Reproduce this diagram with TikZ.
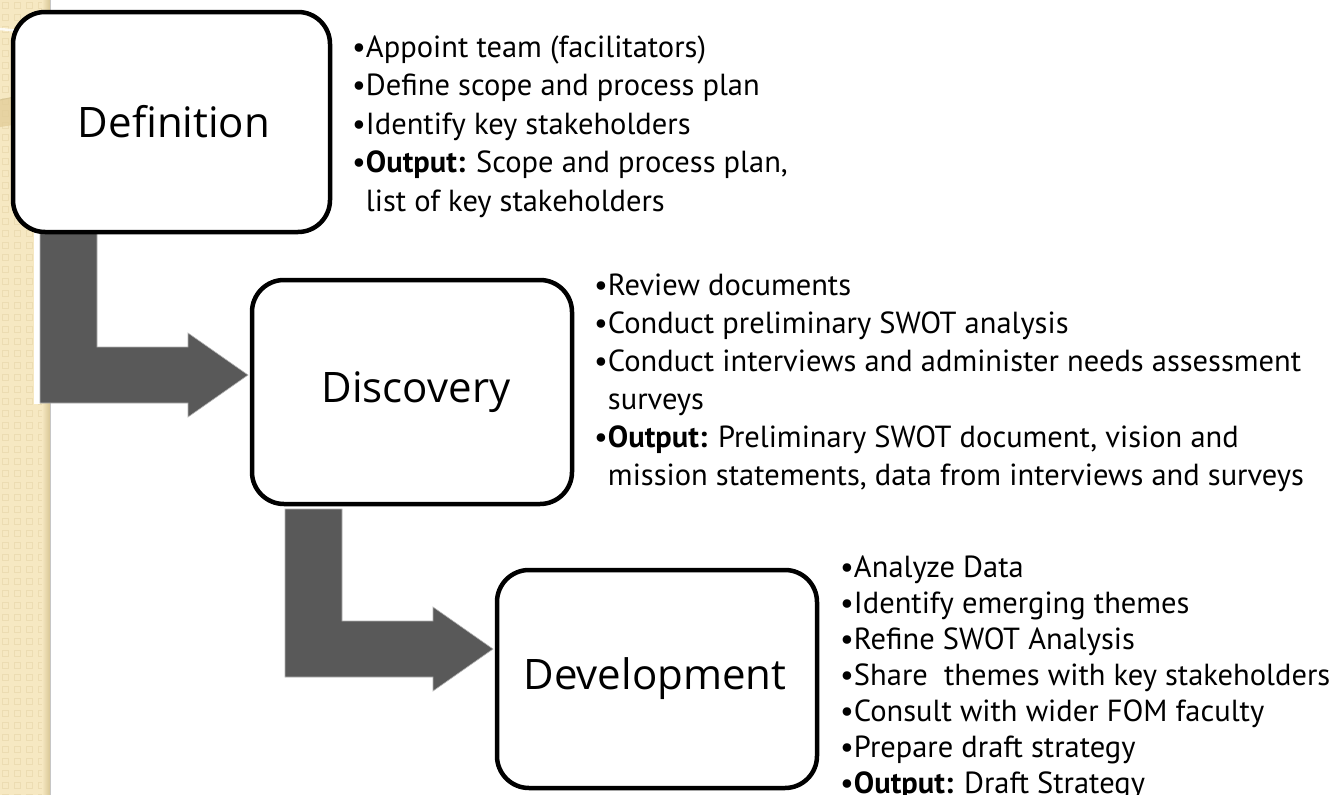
\documentclass[tikz,border=0pt]{standalone}
\usepackage{fontspec}
\setmainfont{PT Sans}
\newfontfamily\boxfont{Open Sans}
\usetikzlibrary{calc}
\definecolor{arrowgray}{HTML}{595959}
\definecolor{stripbg}{HTML}{F6E8C2}
\definecolor{stripsq}{HTML}{ECDCB2}
\definecolor{stripband}{HTML}{E2CD98}
\definecolor{stripedge}{HTML}{D8C695}
\begin{document}
\begin{tikzpicture}[x=1pt,y=-1pt,
  stage/.style={draw=black, line width=4.5pt, rounded corners=32pt, fill=white, inner sep=0pt},
  stagetext/.style={font=\boxfont\fontsize{42}{48}\selectfont, inner sep=0pt},
  bline/.style={font=\fontsize{30.5}{36}\selectfont, anchor=base west, inner sep=0pt},
  bigarrow/.style={fill=arrowgray, draw=gray!60, line width=0.6pt}]
\useasboundingbox (0,0) rectangle (1334,795);
\fill[white] (0,0) rectangle (1334,795);
% decorative strip
\fill[stripbg] (0,0) rectangle (50,795);
\foreach \j in {0,...,66}{\foreach \i in {0,...,3}{
  \draw[stripsq, line width=1.2pt] (\i*12+2.5,\j*12+2.5) rectangle ++(6,6);}}
\fill[stripband, opacity=0.75] (0,100) .. controls (20,96) and (35,92) .. (50,89)
  -- (50,118) .. controls (35,121) and (20,124) .. (0,127) -- cycle;
\draw[stripedge, line width=1pt] (0,100) .. controls (20,96) and (35,92) .. (50,89);
\draw[white, line width=2.5pt, opacity=0.85] (0,29) .. controls (20,31) and (35,33) .. (50,34);
\shade[left color=stripbg, right color=stripedge] (42,0) rectangle (50,795);
\draw[gray!45, line width=1pt] (50.5,0) -- (50.5,795);
\fill[white] (34,233) rectangle (40,404);
% big arrows
\draw[bigarrow] (40,228) -- (97,228) -- (97,347) -- (188,347) -- (188,333) -- (248,375)
  -- (188,417) -- (188,403) -- (40,403) -- cycle;
\draw[bigarrow] (285,509) -- (342,509) -- (342,621) -- (433,621) -- (433,607) -- (493,649)
  -- (433,691) -- (433,677) -- (285,677) -- cycle;
% stage boxes
\node[stage, minimum width=317pt, minimum height=220pt] (def) at (171.5,122) {};
\node[stage, minimum width=320pt, minimum height=224pt] (disc) at (412,392) {};
\node[stage, minimum width=320pt, minimum height=218pt] (dev) at (657,679) {};
\node[stagetext] (deft) at (174,122) {Definition};
\node[stagetext] (disct) at (416,392) {Discovery};
\node[stagetext] (devt) at (655,679) {Development};
% bullet lists
\foreach \t [count=\k from 0] in {
  {•Appoint team (facilitators)},
  {•Define scope and process plan},
  {•Identify key stakeholders},
  {•\textbf{Output:} Scope and process plan,},
  {\hphantom{•}list of key stakeholders}}
  \node[bline] (la\k) at (352,57+38.5*\k) {\t};
\foreach \t [count=\k from 0] in {
  {•Review documents},
  {•Conduct preliminary SWOT analysis},
  {•Conduct interviews and administer needs assessment},
  {\hphantom{•}surveys},
  {•\textbf{Output:} Preliminary SWOT document, vision and},
  {\hphantom{•}mission statements, data from interviews and surveys}}
  \node[bline] (lb\k) at (594,295+38*\k) {\t};
\foreach \t [count=\k from 0] in {
  {•Analyze Data},
  {•Identify emerging themes},
  {•Refine SWOT Analysis},
  {•Share\ \ themes with key stakeholders},
  {•Consult with wider FOM faculty},
  {•Prepare draft strategy},
  {•\textbf{Output:} Draft Strategy}}
  \node[bline] (lc\k) at (840,577+36*\k) {\t};
\end{tikzpicture}
\end{document}
